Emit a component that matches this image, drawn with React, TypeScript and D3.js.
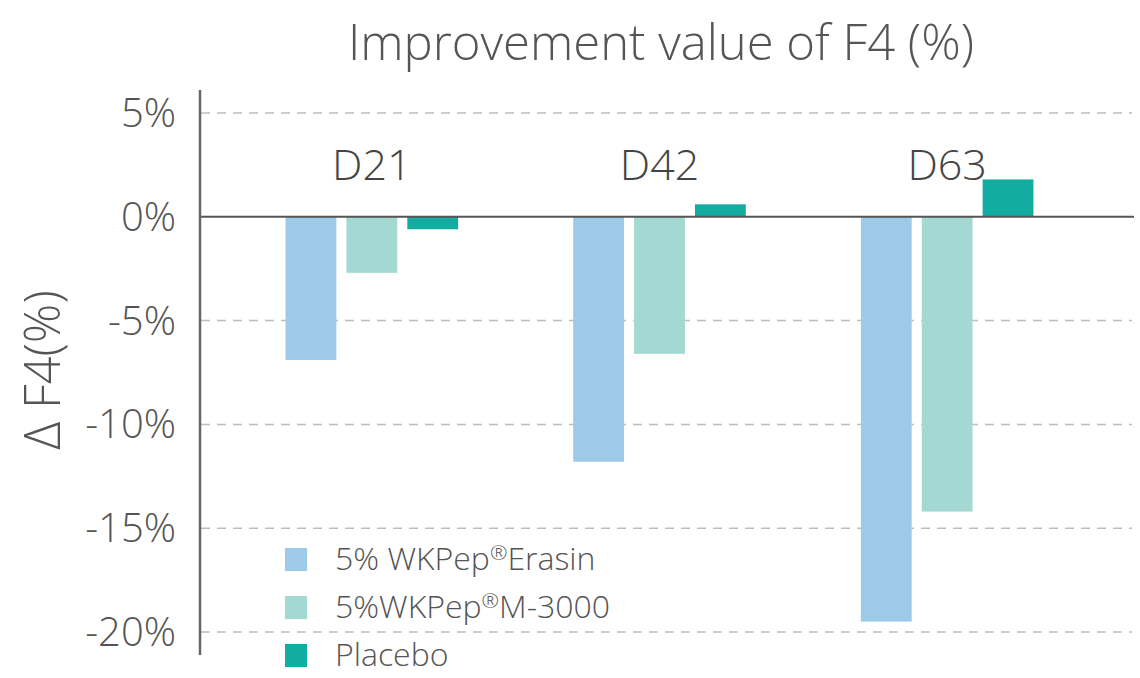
import React, { useEffect, useRef } from 'react';
import * as d3 from 'd3';

const days = ['D21', 'D42', 'D63'];
const seriesNames = ['5% WKPep®Erasin', '5%WKPep®M-3000', 'Placebo'];
const erasin = [-6.9, -11.8, -19.5];
const m3000 = [-2.7, -6.6, -14.2];
const placebo = [-0.6, 0.6, 1.8];
const yTicks = [5, 0, -5, -10, -15, -20];
const colors = ['#9dcbe7', '#a4d9d3', '#13aca1'];

const App: React.FC = () => {
  const ref = useRef<SVGSVGElement>(null);

  useEffect(() => {
    if (!ref.current) return;
    const svg = d3.select(ref.current);
    svg.selectAll('*').remove();

    const font = "'Open Sans', 'Noto Sans', sans-serif";
    const textColor = '#555';
    const values = [erasin, m3000, placebo];

    const y = d3.scaleLinear().domain([-20, 5]).range([632, 113]);
    const x0 = d3.scaleBand().domain(days).range([228, 1091]).paddingInner(0.4).paddingOuter(0.2);
    const x1 = d3.scaleBand().domain(seriesNames).range([0, x0.bandwidth()]).paddingInner(0.165);

    // grid
    svg.append('g')
      .selectAll('line')
      .data(yTicks.filter(t => t !== 0))
      .enter()
      .append('line')
      .attr('x1', 201).attr('x2', 1132)
      .attr('y1', d => y(d)).attr('y2', d => y(d))
      .attr('stroke', '#bdbdbd')
      .attr('stroke-width', 1.5)
      .attr('stroke-dasharray', '9,7');

    // bars
    const groups = svg.append('g')
      .selectAll('g')
      .data(days)
      .enter()
      .append('g')
      .attr('transform', d => `translate(${x0(d)},0)`);

    groups.selectAll('rect')
      .data((_, i) => seriesNames.map((s, j) => ({ s, j, v: values[j][i] })))
      .enter()
      .append('rect')
      .attr('x', d => x1(d.s) ?? 0)
      .attr('width', x1.bandwidth())
      .attr('y', d => y(Math.max(0, d.v)))
      .attr('height', d => Math.abs(y(d.v) - y(0)))
      .attr('fill', d => colors[d.j]);

    // zero line
    svg.append('line')
      .attr('x1', 200).attr('x2', 1134)
      .attr('y1', y(0)).attr('y2', y(0))
      .attr('stroke', '#555').attr('stroke-width', 2);

    // y axis line
    svg.append('line')
      .attr('x1', 200).attr('x2', 200)
      .attr('y1', 90).attr('y2', 655)
      .attr('stroke', '#666').attr('stroke-width', 2.5);

    // tick labels
    svg.append('g')
      .selectAll('text')
      .data(yTicks)
      .enter()
      .append('text')
      .attr('x', 176)
      .attr('y', d => y(d) + 14)
      .attr('text-anchor', 'end')
      .attr('font-family', font)
      .attr('font-weight', 300)
      .attr('font-size', 40)
      .attr('fill', textColor)
      .text(d => `${d}%`);

    // day labels
    svg.append('g')
      .selectAll('text')
      .data(days)
      .enter()
      .append('text')
      .attr('x', d => (x0(d) ?? 0) + x0.bandwidth() / 2)
      .attr('y', 180)
      .attr('text-anchor', 'middle')
      .attr('font-family', font)
      .attr('font-weight', 300)
      .attr('font-size', 43)
      .attr('fill', '#444')
      .text(d => d);

    // title
    svg.append('text')
      .attr('x', 661).attr('y', 60)
      .attr('text-anchor', 'middle')
      .attr('font-family', font)
      .attr('font-weight', 300)
      .attr('font-size', 49)
      .attr('fill', textColor)
      .text('Improvement value of F4 (%)');

    // y label
    svg.append('text')
      .attr('transform', 'translate(60,370) rotate(-90)')
      .attr('text-anchor', 'middle')
      .attr('font-family', font)
      .attr('font-weight', 300)
      .attr('font-size', 49)
      .attr('fill', textColor)
      .text('Δ F4(%)');

    // legend
    const legend = svg.append('g')
      .selectAll('g')
      .data(seriesNames)
      .enter()
      .append('g')
      .attr('transform', (_, i) => `translate(285,${548 + i * 48})`);

    legend.append('rect')
      .attr('width', 22).attr('height', 23)
      .attr('fill', (_, i) => colors[i]);

    const lt = legend.append('text')
      .attr('x', 50).attr('y', 22)
      .attr('font-family', font)
      .attr('font-weight', 300)
      .attr('font-size', 32)
      .attr('fill', textColor);

    lt.each(function (d) {
      const parts = d.split('®');
      const t = d3.select(this);
      t.append('tspan').text(parts[0]);
      if (parts.length > 1) {
        t.append('tspan').attr('font-size', 21).attr('dy', -10).text('®');
        t.append('tspan').attr('dy', 10).text(parts[1]);
      }
    });
  }, []);

  return (
    <svg
      ref={ref}
      width={1140}
      height={678}
      style={{ position: 'absolute', left: 0, top: 0, display: 'block' }}
    />
  );
};

export default App;
